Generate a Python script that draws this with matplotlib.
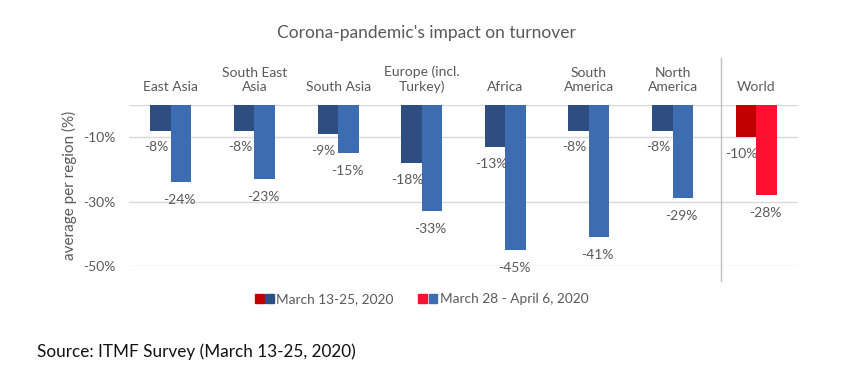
import matplotlib
matplotlib.use("Agg")
import matplotlib.pyplot as plt
from matplotlib.patches import Patch
from matplotlib.legend_handler import HandlerTuple

# data
regions = ["East Asia", "South East\nAsia", "South Asia", "Europe (incl.\nTurkey)",
           "Africa", "South\nAmerica", "North\nAmerica", "World"]
march_13_25 = [-8, -8, -9, -18, -13, -8, -8, -10]
march28_apr6 = [-24, -23, -15, -33, -45, -41, -29, -28]
yticks = [-10, -30, -50]

dark_blue = "#2E4E82"
light_blue = "#3E6CB2"
dark_red = "#C00000"
light_red = "#FF1030"
grey = "#595959"

plt.rcParams["font.family"] = ["Lato", "DejaVu Sans"]

fig = plt.figure(figsize=(8.52, 3.68), dpi=100)
ax = fig.add_axes([129 / 852, 102 / 368, 669 / 852, 161 / 368])

w = 0.245
x = list(range(len(regions)))
c1 = [dark_blue] * 7 + [dark_red]
c2 = [light_blue] * 7 + [light_red]
ax.bar([i - w / 2 for i in x], march_13_25, width=w, color=c1, zorder=3)
ax.bar([i + w / 2 for i in x], march28_apr6, width=w, color=c2, zorder=3)

for i in x:
    ax.annotate(f"{march_13_25[i]}%", (i - w / 2, march_13_25[i]), xytext=(-3, -12),
                textcoords="offset points", ha="center", va="center",
                fontsize=10, color=grey, annotation_clip=False)
    ax.annotate(f"{march28_apr6[i]}%", (i + w / 2, march28_apr6[i]), xytext=(-1, -13),
                textcoords="offset points", ha="center", va="center",
                fontsize=10, color=grey, annotation_clip=False)

ax.set_xlim(-0.5, len(regions) - 0.5)
ax.set_ylim(-50, 0)
ax.set_yticks(yticks)
ax.set_yticklabels([f"{t}%" for t in yticks], fontsize=10, color=grey)
ax.set_xticks([])
ax.tick_params(axis="y", length=0, pad=10)
for t in [0] + yticks:
    ax.axhline(t, color="#D9D9D9", lw=1, zorder=1)
for s in ax.spines.values():
    s.set_visible(False)

# region names above the bars
for i, name in enumerate(regions):
    ax.text(i, 1.075, name, transform=ax.get_xaxis_transform(), ha="center",
            va="bottom", fontsize=10, color=grey, linespacing=1.2)

# separator before World
ax.axvline(6.575, ymin=-0.095, ymax=1.29, color="#BFBFBF", lw=1, clip_on=False)

ax.set_ylabel("average per region (%)", fontsize=11, color=grey, labelpad=4)

fig.text(0.5, 0.91, "Corona-pandemic's impact on turnover", ha="center",
         va="center", fontsize=12.5, color=grey)

h1 = (Patch(color=dark_red), Patch(color=dark_blue))
h2 = (Patch(color=light_red), Patch(color=light_blue))
fig.legend([h1, h2], ["March 13-25, 2020", "March 28 - April 6, 2020"],
           handler_map={tuple: HandlerTuple(ndivide=None, pad=0.1)},
           loc="center", bbox_to_anchor=(0.495, 0.187), ncol=2, frameon=False,
           fontsize=9.8, labelcolor=grey, handlelength=1.4, handleheight=0.7,
           handletextpad=0.2, columnspacing=1.8)

fig.text(37 / 852, 1 - 352 / 368, "Source: ITMF Survey (March 13-25, 2020)",
         ha="left", va="center", fontsize=12.3, color="#111111")

fig.savefig("out.png", dpi=100)
